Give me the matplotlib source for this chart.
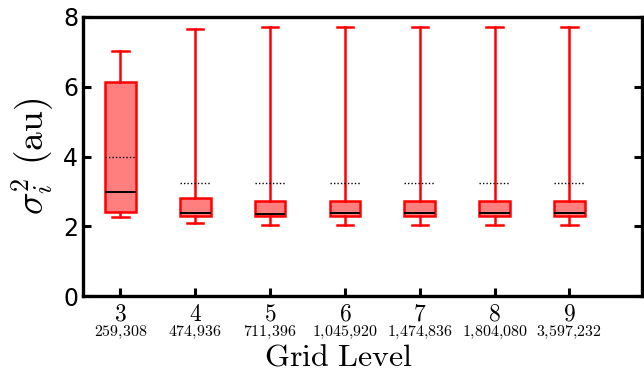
import matplotlib
matplotlib.use("Agg")
import matplotlib.pyplot as plt
import numpy as np

plt.rcParams['mathtext.fontset'] = 'cm'
plt.rcParams['font.family'] = ['DejaVu Sans']

levels = [3, 4, 5, 6, 7, 8, 9]
cells = ["259,308", "474,936", "711,396", "1,045,920", "1,474,836", "1,804,080", "3,597,232"]
whisker_low = [2.26, 2.08, 2.03, 2.04, 2.04, 2.04, 2.04]
q1 = [2.42, 2.29, 2.30, 2.30, 2.30, 2.30, 2.30]
median = [2.98, 2.37, 2.36, 2.37, 2.37, 2.37, 2.37]
q3 = [6.14, 2.80, 2.73, 2.73, 2.73, 2.73, 2.73]
whisker_high = [7.02, 7.65, 7.70, 7.70, 7.70, 7.70, 7.70]
mean = [3.99, 3.25, 3.24, 3.24, 3.24, 3.24, 3.24]

fig = plt.figure(figsize=(6.44, 3.77), dpi=100)
ax = fig.add_axes([83/644, 81/377, (642-83)/644, (296-17)/377])

stats = []
for i, lv in enumerate(levels):
    stats.append(dict(med=median[i], q1=q1[i], q3=q3[i], whislo=whisker_low[i],
                      whishi=whisker_high[i], mean=mean[i], fliers=[], label=str(lv)))

red = '#ff0000'
bp = ax.bxp(stats, positions=levels, widths=0.41, patch_artist=True,
            showmeans=True, meanline=True, showfliers=False,
            boxprops=dict(facecolor=(1, 0, 0, 0.5), edgecolor=red, linewidth=1.8),
            whiskerprops=dict(color=red, linewidth=1.8),
            capprops=dict(color=red, linewidth=1.8),
            medianprops=dict(color='black', linewidth=1.4),
            meanprops=dict(color='black', linewidth=1.0, linestyle=(0, (1, 1.5))),
            capwidths=0.22)

ax.set_xlim(2.5, 9.97)
ax.set_ylim(0, 8)
ax.set_yticks([0, 2, 4, 6, 8])
ax.set_xticks(levels)
ax.set_xticklabels([r'$%d$' % lv for lv in levels], fontsize=17)
for t in ax.get_yticklabels():
    t.set_fontsize(17)

ax.tick_params(axis='both', direction='in', length=6, width=2.2)
ax.tick_params(axis='y', right=True, pad=3.5)
ax.tick_params(axis='x', pad=4)
for s in ax.spines.values():
    s.set_linewidth(2.4)

for lv, c in zip(levels, cells):
    ax.annotate(r'$%s$' % c.replace(',', '{,}'), xy=(lv, 0), xycoords=('data', 'axes fraction'),
                xytext=(0, -26.5), textcoords='offset points', ha='center', va='center', fontsize=11.5)

ax.set_ylabel(r'$\sigma_i^2\ (\mathrm{au})$', fontsize=27, labelpad=5)
fig.text(338/644, 1 - 357/377, r'$\mathrm{Grid\ Level}$', ha='center', va='center', fontsize=23)

fig.savefig('out.png', dpi=100)
